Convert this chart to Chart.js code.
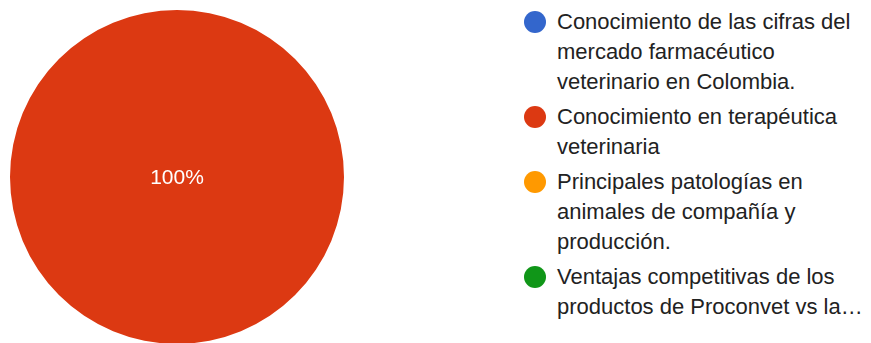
<!DOCTYPE html>
<html lang="es">
<head>
<meta charset="utf-8">
<title>Respuestas</title>
<script src="https://cdn.jsdelivr.net/npm/chart.js@4/dist/chart.umd.min.js"></script>
<style>
  html, body { margin: 0; padding: 0; background: #ffffff; overflow: hidden; }
  body { width: 871px; height: 343px; position: relative; font-family: "Liberation Sans", Arial, sans-serif; }
  #pieBox { position: absolute; left: 10px; top: 10px; width: 334px; height: 334px; }
  #legend { position: absolute; left: 524px; top: 7px; width: 347px; margin: 0; padding: 0; list-style: none; }
  #legend li { position: relative; padding-left: 33px; margin-bottom: 5px; font-size: 22px; line-height: 30px; color: #222222; }
  #legend li .dot { position: absolute; left: 0; top: 4px; width: 22px; height: 22px; border-radius: 50%; }
  #legend li .txt { display: block; width: 312px; }
</style>
</head>
<body>
<div id="pieBox"><canvas id="pie"></canvas></div>
<ul id="legend"></ul>
<script>
// Answer options and share of responses (percent)
const categories = [
  "Conocimiento de las cifras del mercado farmacéutico veterinario en Colombia.",
  "Conocimiento en terapéutica veterinaria",
  "Principales patologías en animales de compañía y producción.",
  "Ventajas competitivas de los productos de Proconvet vs la…"
];
const values = [0, 100, 0, 0];
const colors = ["#3366CC", "#DC3912", "#FF9900", "#109618"];

// Percentage label drawn at the centre of each non-empty slice
const sliceLabels = {
  id: "sliceLabels",
  afterDatasetsDraw(chart) {
    const ctx = chart.ctx;
    const meta = chart.getDatasetMeta(0);
    const data = chart.data.datasets[0].data;
    const total = data.reduce((a, b) => a + b, 0);
    ctx.save();
    ctx.fillStyle = "#ffffff";
    ctx.font = "21px 'Liberation Sans', Arial, sans-serif";
    ctx.textAlign = "center";
    ctx.textBaseline = "middle";
    meta.data.forEach((arc, i) => {
      const v = data[i];
      if (!v) return;
      const pct = Math.round(v / total * 100);
      let x, y;
      if (pct >= 100) {
        x = arc.x; y = arc.y;
      } else {
        const p = arc.tooltipPosition();
        x = p.x; y = p.y;
      }
      ctx.fillText(pct + "%", x, y + 1);
    });
    ctx.restore();
  }
};

new Chart(document.getElementById("pie"), {
  type: "pie",
  data: {
    labels: categories,
    datasets: [{
      data: values,
      backgroundColor: colors,
      borderWidth: 0
    }]
  },
  options: {
    responsive: true,
    maintainAspectRatio: false,
    animation: false,
    layout: { padding: 0 },
    plugins: {
      legend: { display: false },
      tooltip: { enabled: false }
    }
  },
  plugins: [sliceLabels]
});

// Legend list built from the same category and colour arrays
const legend = document.getElementById("legend");
categories.forEach((label, i) => {
  const li = document.createElement("li");
  const dot = document.createElement("span");
  dot.className = "dot";
  dot.style.background = colors[i];
  const txt = document.createElement("span");
  txt.className = "txt";
  txt.textContent = label;
  li.appendChild(dot);
  li.appendChild(txt);
  legend.appendChild(li);
});
</script>
</body>
</html>
